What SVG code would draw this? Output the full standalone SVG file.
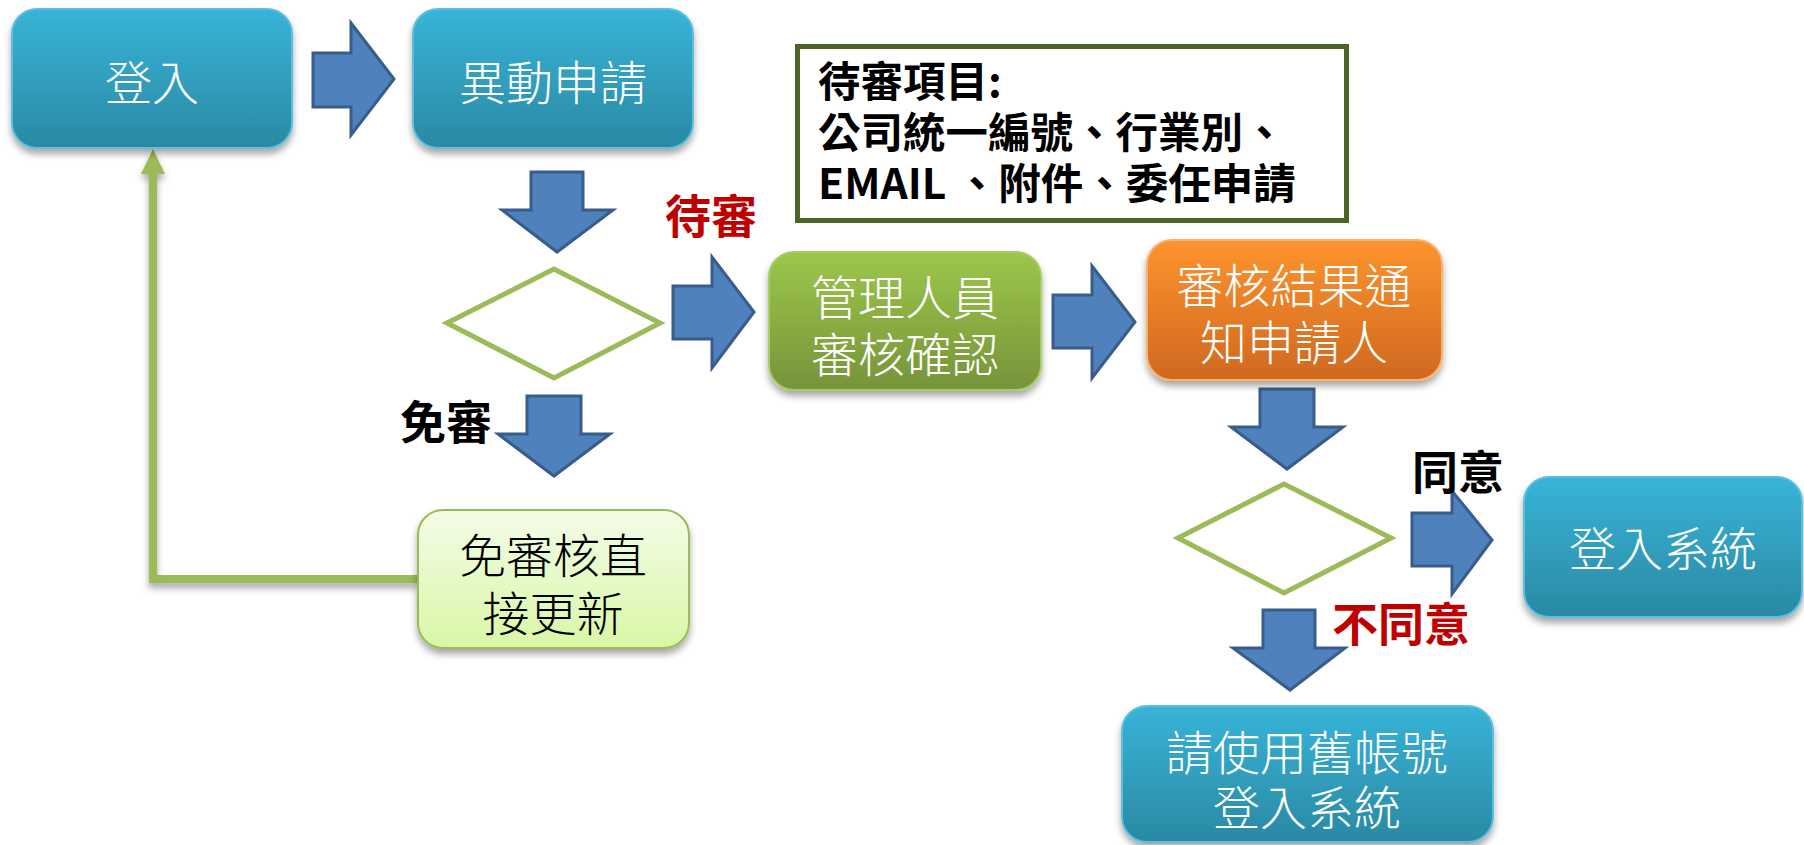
<svg xmlns="http://www.w3.org/2000/svg" width="1804" height="845" viewBox="0 0 1804 845">
<defs>
<linearGradient id="gBlue" x1="0" y1="0" x2="0" y2="1"><stop offset="0" stop-color="#38b4d8"/><stop offset="1" stop-color="#2a89a3"/></linearGradient>
<linearGradient id="gGreen" x1="0" y1="0" x2="0" y2="1"><stop offset="0" stop-color="#9dc64a"/><stop offset="1" stop-color="#76943a"/></linearGradient>
<linearGradient id="gOrange" x1="0" y1="0" x2="0" y2="1"><stop offset="0" stop-color="#fd942e"/><stop offset="1" stop-color="#d0681f"/></linearGradient>
<linearGradient id="gLight" x1="0" y1="0" x2="0" y2="1"><stop offset="0" stop-color="#f4fce8"/><stop offset="1" stop-color="#d8f7a6"/></linearGradient>
<filter id="sh" x="-10%" y="-10%" width="120%" height="130%"><feDropShadow dx="0" dy="5" stdDeviation="3.5" flood-color="#000" flood-opacity="0.35"/></filter>
</defs>
<style>
.blue{fill:url(#gBlue);stroke:#5cc0dc;stroke-width:2}
.green{fill:url(#gGreen);stroke:#a8cc66;stroke-width:2}
.orange{fill:url(#gOrange);stroke:#fcb26a;stroke-width:2}
.light{fill:url(#gLight);stroke:#9bbb59;stroke-width:2}
.nt{font-family:"Noto Sans CJK TC","Noto Sans CJK SC",sans-serif;font-weight:300;font-size:47px;fill:#fff;text-anchor:middle}
.dk{fill:#000}
.arr{fill:#4f81bd;stroke:#385d8a;stroke-width:3;stroke-linejoin:miter}
.dia{fill:#fff;stroke:#9bbb59;stroke-width:5}
.lbl{font-family:"Noto Sans CJK TC","Noto Sans CJK SC",sans-serif;font-weight:700;font-size:46px}
.red{fill:#c00000}
.info{font-family:"Noto Sans CJK TC","Noto Sans CJK SC",sans-serif;font-weight:700;font-size:42.5px;fill:#000}
</style>
<rect width="1804" height="845" fill="#fff"/>

<g id="connectors">
<g filter="url(#sh)">
<polyline points="418,579 153,579 153,170" fill="none" stroke="#9bbb59" stroke-width="8"/>
<polygon points="153,149 141,174 165,174" fill="#9bbb59"/>
</g>
<path class="arr" d="M313,53 H351 V23 L394,79 L351,135 V107 H313 Z"/>
<path class="arr" d="M673,286 H712 V257 L754,312 L712,368 V339 H673 Z"/>
<path class="arr" d="M1053,295 H1092 V266 L1135,322 L1092,378 V348 H1053 Z"/>
<path class="arr" d="M1412,513 H1452 V491 L1492,540 L1452,594 V566 H1412 Z"/>
<path class="arr" d="M531,172 H583 V210 H613 L557,252 L502,210 H531 Z"/>
<path class="arr" d="M527,396 H581 V434 H610 L554,476 L498,434 H527 Z"/>
<path class="arr" d="M1260,389 H1314 V427 H1343 L1287,469 L1231,427 H1260 Z"/>
<path class="arr" d="M1263,610 H1315 V648 H1345 L1290,690 L1233,648 H1263 Z"/>
</g>

<g id="n-login">
<rect class="blue" x="12" y="9" width="280" height="139" rx="25" filter="url(#sh)"/>
<text class="nt" x="152" y="100">登入</text>
</g>
<g id="n-apply">
<rect class="blue" x="413" y="9" width="280" height="139" rx="25" filter="url(#sh)"/>
<text class="nt" x="553" y="100">異動申請</text>
</g>
<g id="n-info">
<rect x="797.5" y="46.5" width="549" height="174" fill="#fff" stroke="#4f6228" stroke-width="5"/>
<text class="info" x="818" y="97">待審項目:</text>
<text class="info" x="818" y="148">公司統一編號、行業別、</text>
<text class="info" x="818" y="199">EMAIL 、附件、委任申請</text>
</g>
<g id="d-1">
<polygon class="dia" points="447,323 554,269 660,323 554,378"/>
</g>
<g id="l-pending"><text class="lbl red" x="665" y="233">待審</text></g>
<g id="l-exempt"><text class="lbl" x="400" y="439">免審</text></g>
<g id="n-admin">
<rect class="green" x="769" y="252" width="272" height="138" rx="25" filter="url(#sh)"/>
<text class="nt" x="905" y="315">管理人員</text>
<text class="nt" x="905" y="372">審核確認</text>
</g>
<g id="n-notify">
<rect class="orange" x="1147" y="240" width="295" height="140" rx="25" filter="url(#sh)"/>
<text class="nt" x="1294" y="303">審核結果通</text>
<text class="nt" x="1294" y="360">知申請人</text>
</g>
<g id="n-direct">
<rect class="light" x="418" y="510" width="271" height="138" rx="25" filter="url(#sh)"/>
<text class="nt dk" x="553" y="573">免審核直</text>
<text class="nt dk" x="553" y="631">接更新</text>
</g>
<g id="d-2">
<polygon class="dia" points="1178,538 1284,484 1391,538 1284,593"/>
</g>
<g id="l-agree"><text class="lbl" x="1412" y="489">同意</text></g>
<g id="l-disagree"><text class="lbl red" x="1332" y="641">不同意</text></g>
<g id="n-loginsys">
<rect class="blue" x="1524" y="477" width="278" height="140" rx="25" filter="url(#sh)"/>
<text class="nt" x="1663" y="566">登入系統</text>
</g>
<g id="n-old">
<rect class="blue" x="1122" y="706" width="371" height="136" rx="25" filter="url(#sh)"/>
<text class="nt" x="1307" y="770">請使用舊帳號</text>
<text class="nt" x="1307" y="825">登入系統</text>
</g>
</svg>
